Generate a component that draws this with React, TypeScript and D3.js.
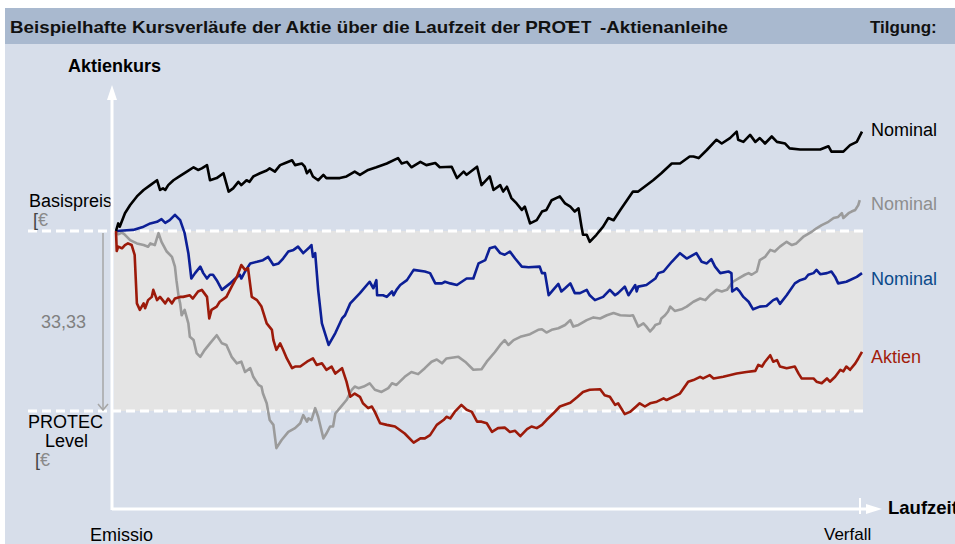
import React from "react";
import * as d3 from "d3";

// Laufzeit in % (0 = Emission, 100 = Verfall), Kurs in €
const basispreis = 100;
const protecLevel = 66.67;
const abstand = "33,33";

const kursNominalSchwarz: [number, number][] = [
  [0, 100], [0.3, 101.4], [0.5, 100.8], [1.2, 103.3], [1.9, 104.8], [2.8, 106.4], [3.7, 107.6], [4.6, 108.5],
  [5.5, 109.4], [5.9, 107.6], [6.3, 107.9], [6.6, 107.6], [7.0, 108.5], [7.7, 109.4], [8.6, 110.2], [9.5, 111.0],
  [10.4, 111.8], [11.0, 111.3], [11.5, 111.6], [12.2, 112.2], [12.6, 109.4], [13.5, 109.8], [14.4, 110.7],
  [15.1, 107.3], [15.7, 107.9], [16.4, 109.1], [16.8, 108.5], [17.5, 109.4], [17.9, 109.1], [18.4, 110.1],
  [19.3, 110.7], [20.2, 111.2], [20.6, 111.6], [21.3, 111.0], [22.0, 112.2], [22.7, 112.6], [23.6, 113.1],
  [24.0, 112.2], [24.9, 112.5], [25.3, 111.9], [25.6, 110.7], [26.0, 111.3], [26.4, 110.1], [27.1, 109.4],
  [27.8, 110.4], [28.2, 109.8], [30.0, 109.8], [30.9, 110.1], [32.0, 111.0], [32.7, 110.4], [33.8, 111.3],
  [34.9, 111.8], [36.3, 112.5], [37.8, 113.5], [38.3, 112.5], [39.0, 112.8], [39.6, 111.8], [40.8, 112.8],
  [41.6, 112.2], [42.8, 112.6], [43.4, 111.8], [45.0, 111.9], [45.7, 109.8], [46.6, 111.0], [47.0, 110.4],
  [48.4, 111.9], [49.0, 108.5], [50.1, 110.1], [50.6, 107.6], [51.5, 108.5], [51.9, 107.3], [52.4, 108.2],
  [53.0, 106.1], [53.7, 105.1], [54.4, 103.9], [54.8, 104.5], [55.5, 101.4], [56.4, 102.0], [57.1, 103.6],
  [57.7, 103.9], [58.4, 105.7], [59.5, 106.4], [60.2, 105.1], [60.9, 104.5], [61.5, 103.6], [62.0, 104.2],
  [62.4, 100.8], [62.6, 99.3], [63.1, 99.3], [63.5, 98.0], [64.4, 99.3], [65.3, 100.8], [66.0, 102.4],
  [66.7, 102.0], [67.6, 103.9], [69.3, 107.3], [70.0, 107.3], [72.0, 109.4], [73.1, 110.7], [74.5, 112.5],
  [75.6, 112.5], [76.9, 113.8], [77.4, 113.8], [78.1, 113.5], [79.2, 115.0], [80.5, 116.9], [81.2, 116.2],
  [82.3, 117.2], [83.2, 118.4], [83.4, 116.9], [84.1, 116.5], [85.0, 117.8], [85.7, 116.5], [86.3, 117.2],
  [87.0, 116.2], [87.9, 117.5], [88.6, 116.5], [89.7, 116.2], [90.3, 115.3], [91.7, 115.1], [94.4, 115.1],
  [95.5, 115.7], [95.9, 114.7], [97.5, 114.7], [98.4, 115.9], [99.3, 116.5], [100, 118.4],
];

const kursNominalGrau: [number, number][] = [
  [0, 100], [0.3, 99.4], [0.8, 99.7], [1.2, 99.3], [1.9, 98.3], [2.8, 97.7], [3.7, 97.4], [4.3, 97.1],
  [4.6, 97.7], [5.2, 97.4], [5.7, 99.6], [6.1, 98.0], [6.8, 96.2], [7.5, 95.2], [7.9, 93.4], [8.1, 90.9],
  [8.4, 87.8], [8.6, 86.6], [8.8, 84.4], [9.2, 85.4], [9.7, 82.9], [9.9, 80.4], [10.4, 79.8], [10.8, 77.4],
  [11.3, 76.7], [11.9, 78.0], [12.6, 79.2], [13.5, 80.7], [14.2, 79.2], [14.8, 78.9], [15.5, 76.7],
  [16.2, 75.5], [16.8, 75.8], [17.3, 73.9], [18.0, 74.6], [18.4, 73.0], [19.1, 71.5], [19.5, 71.2],
  [19.7, 69.9], [20.2, 68.1], [20.6, 65.0], [21.1, 64.1], [21.5, 59.8], [22.2, 61.3], [23.1, 62.8],
  [24.0, 63.5], [24.7, 64.4], [25.1, 65.9], [25.6, 64.7], [25.8, 65.3], [26.2, 65.0], [26.7, 67.2],
  [27.1, 65.6], [27.8, 61.6], [28.2, 62.5], [28.7, 63.8], [29.1, 63.8], [29.4, 66.2], [30.0, 67.2],
  [30.9, 68.7], [31.6, 70.6], [32.0, 71.2], [32.5, 70.9], [33.2, 71.2], [34.0, 71.8], [34.7, 70.6],
  [35.6, 70.2], [36.5, 70.9], [37.0, 71.8], [37.6, 71.5], [38.7, 73.0], [39.6, 73.9], [40.5, 73.5],
  [41.4, 74.6], [42.3, 75.8], [43.0, 76.2], [43.7, 75.5], [44.3, 76.4], [45.9, 76.7], [46.8, 75.8],
  [47.9, 74.3], [49.0, 74.4], [49.7, 75.8], [50.8, 77.6], [51.5, 78.9], [52.1, 79.8], [52.6, 78.9],
  [53.3, 79.8], [54.2, 80.4], [55.5, 80.9], [56.6, 81.7], [57.1, 81.8], [57.7, 81.2], [58.4, 81.7],
  [59.3, 82.0], [60.2, 82.6], [60.9, 83.5], [61.3, 82.3], [62.0, 82.6], [63.1, 83.5], [64.0, 84.0],
  [64.9, 83.8], [65.8, 84.4], [66.7, 84.8], [67.6, 84.4], [68.9, 84.3], [69.3, 84.4], [70.0, 82.3],
  [70.7, 82.9], [71.1, 82.3], [71.6, 81.4], [72.0, 82.0], [72.3, 82.6], [72.9, 82.9], [73.1, 83.8],
  [73.6, 84.4], [74.0, 85.1], [74.3, 86.0], [74.9, 85.2], [75.8, 85.5], [76.5, 86.0], [77.4, 86.9],
  [78.3, 87.5], [79.0, 87.2], [79.6, 88.1], [80.5, 89.1], [81.2, 88.8], [81.9, 89.1], [82.7, 90.6],
  [83.4, 91.2], [84.3, 91.9], [84.8, 92.2], [85.2, 91.9], [85.9, 92.5], [86.3, 94.6], [87.0, 95.2],
  [87.7, 96.5], [88.3, 96.2], [89.0, 97.1], [89.9, 98.0], [90.6, 97.4], [91.2, 97.7], [92.1, 98.9],
  [93.3, 99.9], [93.9, 100.5], [94.6, 101.1], [95.5, 101.7], [96.2, 102.4], [96.8, 102.6], [97.3, 103.3],
  [97.5, 102.4], [98.2, 103.3], [98.6, 103.6], [99.1, 103.9], [99.5, 104.8], [99.7, 105.7],
];

const kursNominalBlau: [number, number][] = [
  [0, 100], [1.0, 100.1], [2.3, 100.2], [3.7, 100.8], [4.6, 101.4], [5.5, 101.7], [6.1, 102.2], [6.6, 101.5],
  [7.2, 102.0], [7.9, 103.0], [8.6, 102.0], [9.2, 99.6], [9.7, 95.9], [10.1, 91.2], [10.6, 92.2], [11.3, 93.4],
  [11.7, 92.2], [12.2, 91.2], [12.6, 91.9], [13.0, 91.9], [13.5, 90.9], [14.2, 89.1], [15.3, 90.3],
  [16.0, 91.2], [16.6, 91.9], [16.8, 91.2], [17.3, 92.5], [18.0, 94.0], [18.9, 94.3], [19.7, 94.6],
  [20.4, 95.2], [21.1, 93.7], [21.8, 94.0], [22.4, 94.9], [23.1, 96.2], [23.8, 96.5], [24.4, 97.1],
  [25.1, 95.9], [25.8, 96.8], [26.2, 97.4], [26.4, 95.2], [26.7, 95.9], [27.1, 89.1], [27.6, 82.9],
  [28.5, 78.9], [29.4, 81.1], [30.3, 83.8], [30.7, 84.4], [31.4, 86.6], [32.7, 88.5], [34.0, 90.6],
  [34.5, 89.4], [34.9, 90.9], [35.0, 88.1], [35.8, 88.1], [36.3, 87.8], [37.0, 88.8], [37.2, 88.1],
  [37.6, 89.1], [38.1, 90.0], [39.0, 90.9], [39.9, 92.8], [41.4, 92.5], [42.1, 92.2], [42.8, 90.3],
  [43.7, 90.3], [44.1, 90.6], [44.8, 90.3], [45.7, 90.0], [47.0, 91.2], [47.9, 91.2], [48.6, 94.0],
  [49.5, 94.6], [50.1, 96.8], [50.8, 97.1], [51.5, 95.9], [52.1, 95.6], [52.8, 96.2], [53.5, 94.9],
  [54.4, 93.4], [55.3, 93.3], [56.8, 93.4], [57.1, 92.2], [57.5, 92.2], [58.0, 88.1], [58.6, 89.1],
  [59.3, 90.2], [59.7, 88.8], [60.2, 89.4], [60.9, 90.3], [61.5, 88.5], [62.2, 88.5], [63.1, 89.1],
  [63.5, 88.1], [64.2, 87.2], [65.3, 87.8], [66.2, 89.1], [66.9, 88.1], [67.3, 88.5], [68.2, 89.7],
  [68.7, 88.1], [69.6, 90.0], [69.8, 88.8], [70.0, 89.7], [71.1, 90.0], [72.3, 91.2], [72.7, 92.2],
  [73.4, 92.5], [74.5, 94.3], [75.6, 95.9], [76.5, 94.9], [77.8, 95.9], [78.5, 94.3], [79.2, 94.0],
  [79.8, 94.8], [80.3, 93.4], [81.0, 92.2], [82.1, 92.5], [82.5, 92.2], [82.6, 88.8], [83.2, 89.4],
  [83.6, 88.8], [84.1, 87.8], [84.8, 86.9], [85.4, 85.5], [86.3, 86.0], [87.2, 86.1], [88.1, 87.2],
  [88.6, 87.5], [89.0, 86.5], [89.9, 88.1], [91.0, 90.3], [91.7, 90.9], [92.4, 91.2], [92.8, 91.9],
  [93.5, 92.2], [93.9, 92.8], [94.4, 92.0], [95.3, 92.2], [95.9, 92.5], [96.4, 91.5], [96.8, 90.3],
  [97.9, 90.6], [99.3, 91.5], [100, 92.2],
];

const kursAktien: [number, number][] = [
  [0, 100], [0.1, 96.3], [0.3, 97.1], [0.8, 96.8], [1.2, 97.4], [1.6, 97.7], [2.1, 97.4], [2.5, 95.6],
  [2.8, 86.6], [3.2, 85.4], [3.7, 86.6], [3.9, 85.7], [4.3, 87.2], [4.8, 87.8], [5.0, 89.1], [5.5, 87.2],
  [5.9, 87.8], [6.6, 86.6], [7.0, 87.5], [7.5, 86.6], [7.9, 87.5], [8.6, 87.8], [9.0, 87.8], [9.9, 88.1],
  [10.3, 87.5], [11.0, 88.8], [11.5, 89.1], [12.2, 87.8], [12.5, 83.8], [12.8, 85.4], [13.5, 86.0],
  [13.9, 86.9], [14.8, 87.8], [15.5, 89.7], [16.2, 91.5], [16.8, 93.7], [17.3, 92.8], [17.7, 93.1],
  [18.2, 87.8], [18.9, 87.2], [19.5, 86.0], [20.2, 82.9], [20.9, 81.7], [21.1, 79.8], [21.5, 78.0],
  [22.0, 79.2], [22.4, 78.0], [22.9, 76.4], [23.6, 74.6], [24.0, 74.9], [24.7, 74.9], [25.6, 75.8],
  [26.4, 76.4], [26.9, 75.2], [27.6, 75.5], [28.2, 74.3], [28.9, 74.9], [29.4, 73.6], [30.3, 74.6],
  [30.9, 72.1], [31.4, 69.3], [32.0, 69.9], [32.7, 69.3], [33.1, 68.1], [33.8, 67.2], [34.3, 67.5],
  [34.7, 66.5], [35.4, 64.4], [36.3, 64.1], [37.4, 63.8], [38.7, 62.5], [39.9, 60.8], [40.8, 61.6],
  [41.4, 61.6], [42.1, 62.2], [43.0, 64.1], [43.9, 65.0], [44.3, 65.6], [44.8, 65.3], [45.4, 66.5],
  [46.3, 67.8], [47.0, 66.9], [47.7, 66.5], [48.4, 64.7], [49.0, 64.7], [49.7, 64.4], [50.4, 62.8],
  [51.2, 63.5], [52.1, 63.6], [52.8, 62.8], [53.5, 63.0], [54.2, 62.0], [55.1, 63.3], [55.7, 63.8],
  [56.4, 63.5], [57.1, 64.1], [57.7, 65.0], [58.6, 66.2], [59.5, 67.5], [60.9, 68.2], [61.8, 69.2],
  [62.6, 70.2], [63.5, 70.6], [64.9, 70.7], [65.5, 69.6], [66.2, 69.3], [66.9, 67.8], [67.3, 68.1],
  [68.2, 66.1], [68.9, 66.5], [69.8, 67.6], [70.2, 68.1], [70.9, 67.5], [71.6, 68.1], [72.5, 68.4],
  [73.4, 69.0], [73.8, 68.7], [74.7, 69.3], [75.6, 69.9], [76.7, 72.1], [77.4, 72.4], [78.3, 73.0],
  [78.7, 72.7], [79.6, 73.3], [80.1, 72.7], [81.4, 73.0], [83.2, 73.6], [84.5, 73.9], [85.7, 74.1],
  [86.1, 75.2], [86.6, 74.9], [87.0, 75.8], [87.7, 77.0], [88.1, 75.8], [88.6, 76.1], [89.0, 74.9],
  [89.9, 74.6], [91.0, 74.9], [91.5, 73.6], [91.9, 72.7], [92.8, 72.7], [93.5, 72.7], [93.9, 72.1],
  [94.6, 71.8], [95.3, 72.7], [95.7, 72.1], [96.4, 73.0], [97.1, 74.3], [97.5, 74.0], [97.9, 74.9],
  [98.4, 74.3], [99.1, 75.5], [99.5, 76.4], [100, 77.6],
];

const serien = [
  { name: "Nominal", data: kursNominalGrau, color: "#9b9b9b", label: "#8e8e8e", labelY: 210 },
  { name: "Nominal", data: kursNominalBlau, color: "#0c1f96", label: "#0b4a8a", labelY: 285 },
  { name: "Aktien", data: kursAktien, color: "#9c1a0a", label: "#a21d0c", labelY: 363 },
  { name: "Nominal", data: kursNominalSchwarz, color: "#000000", label: "#000000", labelY: 136 },
];

const FONT = "'Liberation Sans', Arial, sans-serif";

export default function App() {
  const x = d3.scaleLinear().domain([0, 100]).range([116, 862]);
  const y = d3.scaleLinear().domain([protecLevel, basispreis]).range([411, 231]);
  const line = d3
    .line<[number, number]>()
    .x((d) => x(d[0]))
    .y((d) => y(d[1]));

  const yB = y(basispreis);
  const yL = y(protecLevel);
  const axisX = 112;
  const axisY = 509;

  return (
    <svg
      width={955}
      height={544}
      style={{ position: "absolute", left: 0, top: 0, fontFamily: FONT }}
    >
      <rect x={0} y={0} width={955} height={544} fill="#ffffff" />
      <rect x={5} y={44} width={950} height={500} fill="#d7deea" />
      <rect x={5} y={8} width={950} height={36} fill="#a9b9cf" />

      {/* Titel */}
      <text x={10} y={33} fontSize={17} fontWeight="bold" fill="#111" textLength={556} lengthAdjust="spacingAndGlyphs">
        Beispielhafte Kursverläufe der Aktie über die Laufzeit der PRO
      </text>
      <text x={565} y={33} fontSize={17} fontWeight="bold" fill="#111">T</text>
      <text x={569} y={33} fontSize={17} fontWeight="bold" fill="#111">E</text>
      <text x={581} y={33} fontSize={17} fontWeight="bold" fill="#111">T</text>
      <text x={600} y={33} fontSize={17} fontWeight="bold" fill="#111" textLength={128} lengthAdjust="spacingAndGlyphs">
        -Aktienanleihe
      </text>
      <text x={870} y={33} fontSize={17} fontWeight="bold" fill="#111">Tilgung:</text>

      {/* Band zwischen Basispreis und PROTEC Level */}
      <rect x={axisX + 2} y={yB} width={x(100) - axisX - 1} height={yL - yB} fill="#e4e4e4" />
      <line x1={28} x2={866} y1={yB} y2={yB} stroke="#fff" strokeWidth={3} strokeDasharray="9,5" />
      <line x1={28} x2={866} y1={yL} y2={yL} stroke="#fff" strokeWidth={3} strokeDasharray="9,5" />

      {/* Abstandspfeil */}
      <line x1={103} x2={103} y1={yB + 2} y2={yL - 1} stroke="#a6a6a6" strokeWidth={1.5} />
      <polyline points={`98,${yL - 7} 103,${yL - 1} 108,${yL - 7}`} fill="none" stroke="#a6a6a6" strokeWidth={1.5} />
      <text x={41} y={328} fontSize={18} fill="#808080">{abstand}</text>

      {/* linke Beschriftung */}
      <text x={29} y={207} fontSize={18} fill="#000">Basispreis</text>
      <text x={33} y={226} fontSize={18}>
        <tspan fill="#444">[</tspan>
        <tspan fill="#8a8a8a">€</tspan>
      </text>
      <text x={28} y={428} fontSize={18} fill="#000">PROTEC</text>
      <text x={45} y={447} fontSize={18} fill="#000">Level</text>
      <text x={35} y={466} fontSize={18}>
        <tspan fill="#444">[</tspan>
        <tspan fill="#8a8a8a">€</tspan>
      </text>
      <text x={68} y={72} fontSize={18} fontWeight="bold" fill="#000">Aktienkurs</text>

      {/* Achsen */}
      <line x1={axisX} x2={axisX} y1={axisY + 1} y2={98} stroke="#fff" strokeWidth={3} />
      <polygon points={`${axisX - 5},${100} ${axisX},${85} ${axisX + 5},${100}`} fill="#fff" />
      <line x1={axisX} x2={868} y1={axisY} y2={axisY} stroke="#fff" strokeWidth={3} />
      <polygon points={`866,${axisY - 5} 882,${axisY} 866,${axisY + 5}`} fill="#fff" />
      <line x1={x(100) - 2} x2={x(100) - 2} y1={axisY - 11} y2={axisY + 5} stroke="#fff" strokeWidth={2} />
      <text x={90} y={541} fontSize={18} fill="#000">Emissio</text>
      <text x={824} y={540} fontSize={17} fill="#000">Verfall</text>
      <text x={888} y={514} fontSize={18.5} fontWeight="bold" fill="#000">Laufzeit</text>

      {/* Kursverläufe */}
      {serien.map((s, i) => (
        <path
          key={i}
          d={line(s.data) || ""}
          fill="none"
          stroke={s.color}
          strokeWidth={2.6}
          strokeLinejoin="round"
        />
      ))}
      {serien.map((s, i) => (
        <text key={"l" + i} x={871} y={s.labelY} fontSize={18} fill={s.label}>
          {s.name}
        </text>
      ))}
    </svg>
  );
}
